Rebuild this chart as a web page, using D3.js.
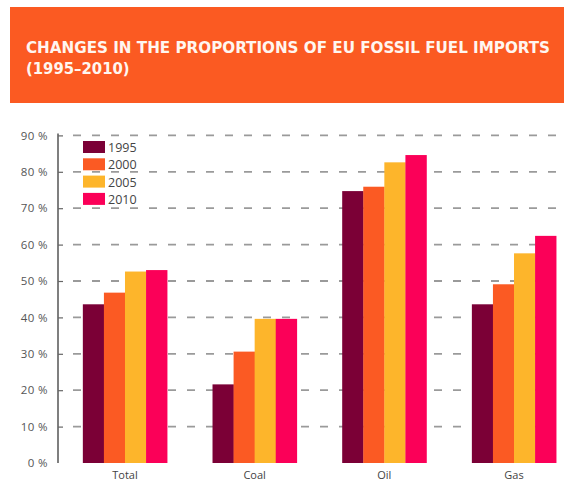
<!DOCTYPE html>
<html>
<head>
<meta charset="utf-8">
<script src="https://cdn.jsdelivr.net/npm/d3@7"></script>
<style>
  html, body { margin: 0; padding: 0; background: #fff; }
  svg { display: block; }
</style>
</head>
<body>
<svg id="chart" width="564" height="482"></svg>
<script>
// EU fossil fuel import dependency by fuel, share of consumption (%)
const categories = ["Total", "Coal", "Oil", "Gas"];
const years = ["1995", "2000", "2005", "2010"];
const values1995 = [43.6, 21.6, 74.7, 43.6];
const values2000 = [46.8, 30.6, 75.9, 49.1];
const values2005 = [52.6, 39.6, 82.6, 57.6];
const values2010 = [53.0, 39.6, 84.6, 62.4];
const yTicks = [0, 10, 20, 30, 40, 50, 60, 70, 80, 90];
const colors = ["#7b0036", "#fb5a23", "#fdb52b", "#fb0058"];

const seriesValues = [values1995, values2000, values2005, values2010];

const svg = d3.select("#chart");

// Header band
svg.append("rect")
  .attr("x", 10).attr("y", 7).attr("width", 554).attr("height", 96)
  .attr("fill", "#fb5a22");
const title = svg.append("text")
  .attr("fill", "#fff6f0")
  .attr("font-family", "'DejaVu Sans Condensed', 'DejaVu Sans', sans-serif")
  .attr("font-weight", "bold")
  .attr("font-size", 16.5);
title.append("tspan").attr("x", 26).attr("y", 53)
  .attr("textLength", 524).attr("lengthAdjust", "spacingAndGlyphs")
  .text("CHANGES IN THE PROPORTIONS OF EU FOSSIL FUEL IMPORTS");
title.append("tspan").attr("x", 26).attr("y", 74)
  .text("(1995\u20132010)");

// Scales
const axisX = 58;
const y = d3.scaleLinear().domain([0, 90]).range([463, 135.4]);
const x0 = d3.scaleBand().domain(categories).range([59.5, 579.5])
  .paddingInner(0.35).paddingOuter(0.18);
const x1 = d3.scaleBand().domain(years).range([0, x0.bandwidth()]).padding(0);

// Dashed gridlines
svg.append("g")
  .selectAll("line")
  .data(yTicks.filter(d => d > 0))
  .join("line")
  .attr("x1", 73).attr("x2", 564)
  .attr("y1", d => y(d)).attr("y2", d => y(d))
  .attr("stroke", "#9a9a9a")
  .attr("stroke-width", 1.8)
  .attr("stroke-dasharray", "8 11");

// Y axis
const yAxis = d3.axisRight(y)
  .tickValues(yTicks)
  .tickSize(5)
  .tickFormat(d => d + " %");
const gy = svg.append("g").attr("transform", `translate(${axisX},0)`).call(yAxis);
gy.select(".domain").attr("d", `M0,${y(90) - 2}V${y(0)}`)
  .attr("stroke", "#555").attr("stroke-width", 1.5);
gy.selectAll(".tick line").attr("stroke", "#666").attr("stroke-width", 1.2)
  .filter(d => d === 0).remove();
gy.selectAll(".tick text")
  .attr("x", -10)
  .attr("text-anchor", "end")
  .attr("fill", "#555")
  .attr("font-family", "'Open Sans', 'DejaVu Sans', sans-serif")
  .attr("font-size", 11.5)
  .attr("letter-spacing", 0.4);

// Bars
const groups = svg.append("g")
  .selectAll("g")
  .data(categories)
  .join("g")
  .attr("transform", d => `translate(${x0(d)},0)`);
groups.selectAll("rect")
  .data((c, i) => years.map((yr, k) => ({ yr, v: seriesValues[k][i], k })))
  .join("rect")
  .attr("x", d => x1(d.yr))
  .attr("width", x1.bandwidth() + 0.3)
  .attr("y", d => y(d.v))
  .attr("height", d => y(0) - y(d.v))
  .attr("fill", d => colors[d.k]);

// Category labels
svg.append("g")
  .selectAll("text")
  .data(categories)
  .join("text")
  .attr("x", d => x0(d) + x0.bandwidth() / 2)
  .attr("y", 479)
  .attr("text-anchor", "middle")
  .attr("fill", "#444")
  .attr("font-family", "'Open Sans', 'DejaVu Sans', sans-serif")
  .attr("font-size", 11)
  .text(d => d);

// Legend
const legend = svg.append("g")
  .selectAll("g")
  .data(years)
  .join("g")
  .attr("transform", (d, i) => `translate(83,${141 + i * 17.3})`);
legend.append("rect")
  .attr("width", 22).attr("height", 12)
  .attr("fill", (d, i) => colors[i]);
legend.append("text")
  .attr("x", 25).attr("y", 11)
  .attr("fill", "#444")
  .attr("font-family", "'Open Sans', 'DejaVu Sans', sans-serif")
  .attr("font-size", 12.5)
  .text(d => d);
</script>
</body>
</html>
